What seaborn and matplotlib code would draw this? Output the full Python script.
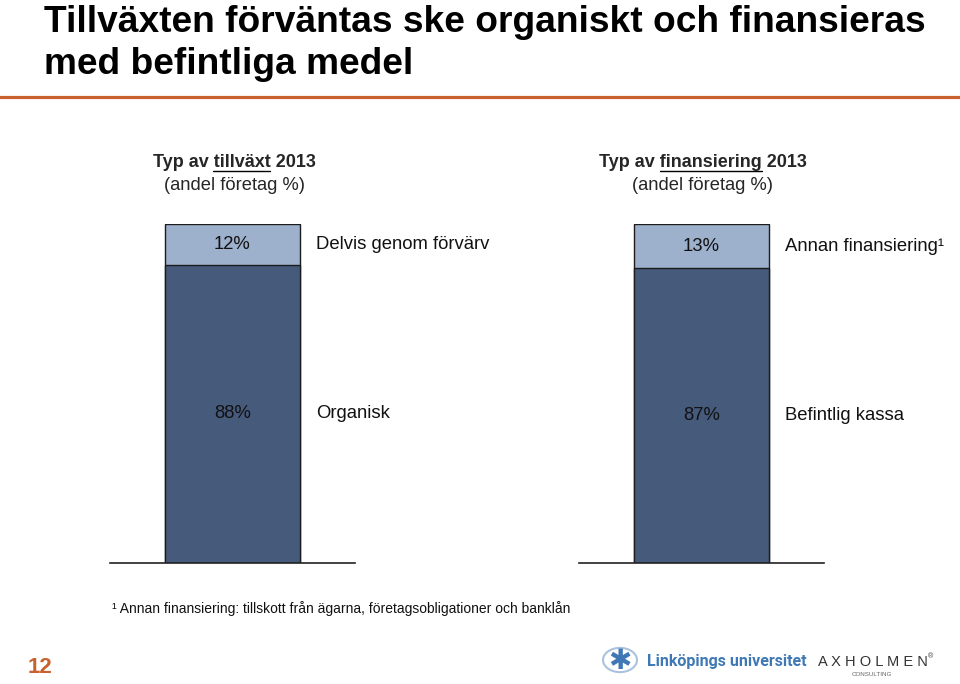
"""Stapeldiagram: typ av tillväxt och typ av finansiering 2013."""

import matplotlib.pyplot as plt
import pandas as pd
import seaborn as sns
from matplotlib.patches import Circle

# Data (andel företag %)
growth_labels = ["Organisk", "Delvis genom förvärv"]
growth_shares = [88, 12]
financing_labels = ["Befintlig kassa", "Annan finansiering¹"]
financing_shares = [87, 13]

title_lines = ["Tillväxten förväntas ske organiskt och finansieras", "med befintliga medel"]
footnote = "¹ Annan finansiering: tillskott från ägarna, företagsobligationer och banklån"
page_number = "12"

# Style
sns.set_theme(style="white")
plt.rcParams["font.family"] = ["Liberation Sans", "DejaVu Sans"]
LIGHT = "#9DB0CC"
DARK = "#465A7B"
EDGE = "#1c1c1c"
ORANGE = "#C9612F"
W, H = 960, 684
BAR_WIDTH = 0.55
LABEL_SIZE = 13.3


def px(x, y):
    """Pixel position (from top-left) to figure fraction."""
    return x / W, 1 - y / H


fig = plt.figure(figsize=(W / 100, H / 100), dpi=100)
renderer = fig.canvas.get_renderer()

# Title and rule
fig.text(*px(44, 32), title_lines[0], weight="bold", fontsize=26.7,
         color="black", va="baseline")
fig.text(*px(44, 74), title_lines[1], weight="bold", fontsize=26.7,
         color="black", va="baseline")
fig.add_artist(plt.Line2D([0, 1], [1 - 97 / H] * 2, color=ORANGE, lw=2.3,
                          transform=fig.transFigure))


def subtitle(cx, word):
    """Bold header with underlined key word, plus unit line."""
    pre, post = "Typ av ", " 2013"
    full = pre + word + post
    kw = dict(weight="bold", fontsize=13, va="baseline")
    t = fig.text(*px(cx, 167), full, ha="center", **kw)
    bb = t.get_window_extent(renderer)

    def width(s):
        tmp = fig.text(0, 0, s, **kw)
        w = tmp.get_window_extent(renderer).width
        tmp.remove()
        return w

    x1 = bb.x0 + width(pre + word) - width(word)
    x2 = bb.x0 + width(pre + word)
    y = H - 170.5
    fig.add_artist(plt.Line2D([x1 / W, x2 / W], [y / H] * 2, color="black", lw=1.0,
                              transform=fig.transFigure))
    fig.text(*px(cx, 190), "(andel företag %)", ha="center", va="baseline", fontsize=13.2)


def stacked_bar(rect, labels, shares, name):
    ax = fig.add_axes(rect)
    tops = pd.Series(shares).cumsum()
    df = pd.DataFrame({"serie": [name], "top": [tops.iloc[-1]], "bottom": [shares[0]]})
    sns.barplot(data=df, x="serie", y="top", color=LIGHT, width=BAR_WIDTH,
                edgecolor=EDGE, linewidth=1.0, saturation=1, ax=ax)
    sns.barplot(data=df, x="serie", y="bottom", color=DARK, width=BAR_WIDTH,
                edgecolor=EDGE, linewidth=1.0, saturation=1, ax=ax)
    ax.set_xlim(-0.5, 0.5)
    ax.set_ylim(0, tops.iloc[-1])
    ax.set_xticks([])
    ax.set_yticks([])
    ax.set_xlabel("")
    ax.set_ylabel("")
    for side in ["top", "left", "right"]:
        ax.spines[side].set_visible(False)
    ax.spines["bottom"].set_color("#222222")
    ax.spines["bottom"].set_linewidth(1.2)
    ax.patch.set_alpha(0)

    starts = [0] + list(tops.iloc[:-1])
    for label, share, start in zip(labels, shares, starts):
        mid = start + share / 2
        ax.text(0, mid, f"{share}%", ha="center", va="center", fontsize=LABEL_SIZE,
                color="#111111")
        ax.text(BAR_WIDTH / 2 + 0.065, mid, label, ha="left", va="center",
                fontsize=LABEL_SIZE, color="#111111")
    return ax


subtitle(234, "tillväxt")
subtitle(703, "finansiering")

stacked_bar([110 / W, 121 / H, 245 / W, 339 / H], growth_labels, growth_shares, "tillväxt")
stacked_bar([579 / W, 121 / H, 245 / W, 339 / H], financing_labels, financing_shares,
            "finansiering")

# Footnote
fig.text(*px(112, 613), footnote, fontsize=10, va="baseline", color="#111111")

# Page number and logos
fig.text(*px(28, 673), page_number, fontsize=16, weight="bold", color=ORANGE, va="baseline")
fig.add_artist(Circle(px(620, 660), 17 / W, transform=fig.transFigure, fill=False,
                      edgecolor="#A9C2DE", lw=1.5))
fig.text(*px(620, 661), "✱", fontsize=20, color="#3F78B5", ha="center", va="center",
         family=["DejaVu Sans"], weight="bold")
fig.text(*px(647, 666), "Linköpings universitet", family=["Roboto", "Liberation Sans"],
         weight="bold", fontsize=11.5, color="#3F78B5", va="baseline")
fig.text(*px(818, 666), "A X H O L M E N", fontsize=10.5, color="#333333", va="baseline")
fig.text(*px(928, 658), "®", fontsize=5, color="#333333", va="baseline")
fig.text(*px(872, 676), "CONSULTING", fontsize=4.5, color="#666666", ha="center",
         va="baseline")

fig.savefig("out.png", dpi=100)
